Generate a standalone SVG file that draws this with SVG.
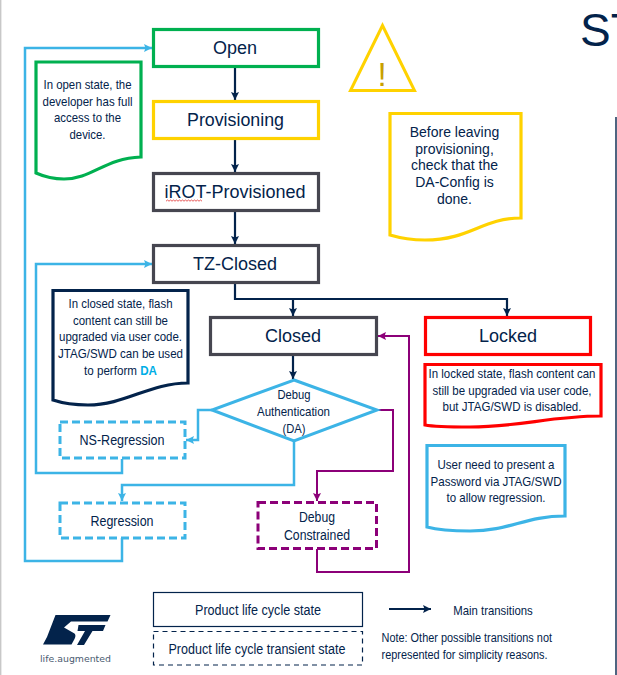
<svg xmlns="http://www.w3.org/2000/svg" width="617" height="675" viewBox="0 0 617 675">
<style>
text{font-family:"Liberation Sans",Arial,sans-serif;fill:#03234b;text-anchor:middle}
.st{fill:#fff;stroke-width:3.2}
.big{font-size:18px}
.sm{font-size:13px}
.c{fill:none;stroke-width:2.2}
.navy{stroke:#03234b}
.blue{stroke:#3cb4e6;stroke-width:2.5}
.pur{stroke:#8c0078;stroke-width:2}
.n{fill:#fff;stroke-width:3.2}
.d{fill:#fff;stroke-width:3;stroke-dasharray:8 4}
</style>
<defs>
<marker id="an" markerUnits="userSpaceOnUse" markerWidth="10" markerHeight="10" refX="8" refY="4" orient="auto"><path d="M0 0L8 4L0 8L1.5 4Z" fill="#03234b"/></marker>
<marker id="ab" markerUnits="userSpaceOnUse" markerWidth="10" markerHeight="10" refX="8" refY="4" orient="auto"><path d="M0 0L8 4L0 8L1.5 4Z" fill="#3cb4e6"/></marker>
<marker id="ap" markerUnits="userSpaceOnUse" markerWidth="10" markerHeight="10" refX="8" refY="4" orient="auto"><path d="M0 0L8 4L0 8L1.5 4Z" fill="#8c0078"/></marker>
</defs>
<rect width="617" height="675" fill="#fff"/>
<path d="M0.7 0V675" stroke="#c8c8c8" stroke-width="1.4"/>
<path d="M616 117V675" stroke="#03234b" stroke-width="1.4"/>
<text x="580" y="46" style="text-anchor:start;font-size:46px">ST</text>

<g id="connectors">
<path class="c navy" d="M235 66V100" marker-end="url(#an)"/>
<path class="c navy" d="M235 138V172" marker-end="url(#an)"/>
<path class="c navy" d="M235 210V244" marker-end="url(#an)"/>
<path class="c navy" d="M235 282V299H293V316" marker-end="url(#an)"/>
<path class="c navy" d="M293 299H507V316" marker-end="url(#an)"/>
<path class="c navy" d="M293 354V379" marker-end="url(#an)"/>
<path class="c blue" d="M122 538V561H25V48H152" marker-end="url(#ab)"/>
<path class="c blue" d="M122 459V473H36V264H152" marker-end="url(#ab)"/>
<path class="c blue" d="M212 410H198V440H186" marker-end="url(#ab)"/>
<path class="c blue" d="M294 441V485H122V501" marker-end="url(#ab)"/>
<path class="c pur" d="M376 410H393V471H317V501" marker-end="url(#ap)"/>
<path class="c pur" d="M317 549V572H409V336H378" marker-end="url(#ap)"/>
</g>

<g id="node-open"><rect class="st" x="153.5" y="29.5" width="165" height="37" stroke="#00b050"/><text class="big" x="235" y="54">Open</text></g>
<g id="node-provisioning"><rect class="st" x="153.5" y="101.5" width="165" height="37" stroke="#ffd200"/><text class="big" x="235.500" y="126" textLength="97" lengthAdjust="spacingAndGlyphs">Provisioning</text></g>
<g id="node-irot"><rect class="st" x="153.5" y="173.5" width="165" height="37" stroke="#464650"/><text class="big" x="235" y="198">iROT-Provisioned</text>
<path d="M166 201.2l1.5-1.2 1.500 1.200 1.500-1.200 1.500 1.200 1.500-1.200 1.500 1.200 1.500-1.200 1.500 1.200 1.500-1.200 1.500 1.200 1.500-1.200 1.500 1.200 1.500-1.200 1.500 1.200 1.500-1.200 1.500 1.200 1.500-1.200 1.500 1.200 1.500-1.200 1.500 1.200 1.500-1.200 1.500 1.200 1.500-1.200 1.500 1.200" fill="none" stroke="#e03030" stroke-width=".8"/></g>
<g id="node-tz-closed"><rect class="st" x="153.5" y="245.5" width="165" height="37" stroke="#464650"/><text class="big" x="235" y="270">TZ-Closed</text></g>
<g id="node-closed"><rect class="st" x="210.5" y="317.5" width="166" height="37" stroke="#464650"/><text class="big" x="293" y="342">Closed</text></g>
<g id="node-locked"><rect class="st" x="425.5" y="317.5" width="165" height="37" stroke="#ff0000"/><text class="big" x="508" y="342">Locked</text></g>

<g id="node-da"><path d="M294 380L377 410L294 441L212 410Z" fill="#fff" stroke="#3cb4e6" stroke-width="3"/>
<text class="sm" x="294" y="399" textLength="33" lengthAdjust="spacingAndGlyphs">Debug</text><text class="sm" x="293.500" y="416" textLength="73" lengthAdjust="spacingAndGlyphs">Authentication</text><text class="sm" x="294" y="433" textLength="23" lengthAdjust="spacingAndGlyphs">(DA)</text></g>

<g id="node-ns-regression"><rect class="d" x="60" y="422" width="125" height="36" stroke="#3cb4e6"/><text x="122" y="445" style="font-size:14px" textLength="85" lengthAdjust="spacingAndGlyphs">NS-Regression</text></g>
<g id="node-regression"><rect class="d" x="60" y="503" width="125" height="35" stroke="#3cb4e6"/><text x="122" y="526" style="font-size:14px" textLength="63" lengthAdjust="spacingAndGlyphs">Regression</text></g>
<g id="node-debug-constrained"><rect class="d" x="258" y="502.500" width="118.500" height="46" stroke="#8c0078"/><text x="317" y="522" style="font-size:14px" textLength="36" lengthAdjust="spacingAndGlyphs">Debug</text><text x="317" y="540" style="font-size:14px" textLength="66" lengthAdjust="spacingAndGlyphs">Constrained</text></g>

<g id="note-open"><path class="n" stroke="#00b050" d="M36 62H141V157C105 158 92 179 64 179C52 179 45 177 36 173Z"/>
<text class="sm" x="87.500" y="89" textLength="88" lengthAdjust="spacingAndGlyphs">In open state, the</text><text class="sm" x="87.500" y="106" textLength="90" lengthAdjust="spacingAndGlyphs">developer has full</text><text class="sm" x="87.500" y="122" textLength="67" lengthAdjust="spacingAndGlyphs">access to the</text><text class="sm" x="87.500" y="139" textLength="36" lengthAdjust="spacingAndGlyphs">device.</text></g>

<g id="warning"><path d="M382.500 25.500L414.500 90.500H350.500Z" fill="#fff" stroke="#ffd200" stroke-width="3"/><text x="382" y="86" style="font-size:33px;fill:#c8a000">!</text></g>

<g id="note-provisioning"><path class="n" stroke="#ffd200" d="M390 113.500H521V218C482 218 470 240 425 240C410 240 400 238 390 235Z"/>
<text x="454.500" y="137" style="font-size:14px">Before leaving</text><text x="454.500" y="154" style="font-size:14px">provisioning,</text><text x="454.500" y="170" style="font-size:14px">check that the</text><text x="454.500" y="187" style="font-size:14px">DA-Config is</text><text x="454.500" y="204" style="font-size:14px">done.</text></g>

<g id="note-closed"><path fill="#fff" stroke="#03234b" stroke-width="3.200" d="M53 290.500H188V383C150 383 125 405 88 405C72 405 62 403 53 400Z"/>
<text class="sm" x="120.500" y="308" textLength="104" lengthAdjust="spacingAndGlyphs">In closed state, flash</text><text class="sm" x="120.500" y="325" textLength="95" lengthAdjust="spacingAndGlyphs">content can still be</text><text class="sm" x="120.500" y="341" textLength="123" lengthAdjust="spacingAndGlyphs">upgraded via user code.</text><text class="sm" x="120.500" y="358" textLength="125" lengthAdjust="spacingAndGlyphs">JTAG/SWD can be used</text><text class="sm" x="120.500" y="375" textLength="73" lengthAdjust="spacingAndGlyphs">to perform <tspan font-weight="700" style="fill:#00aee6">DA</tspan></text></g>

<g id="note-locked"><path class="n" stroke="#ff0000" d="M425 364.500H601V416C550 416 520 427 470 427C450 427 435 427 425 425Z"/>
<text class="sm" x="512" y="378" textLength="167" lengthAdjust="spacingAndGlyphs">In locked state, flash content can</text><text class="sm" x="512" y="395" textLength="159" lengthAdjust="spacingAndGlyphs">still be upgraded via user code,</text><text class="sm" x="512" y="411" textLength="139" lengthAdjust="spacingAndGlyphs">but JTAG/SWD is disabled.</text></g>

<g id="note-password"><path class="n" stroke="#3cb4e6" d="M427 445.500H565V516C525 516 510 531 470 531C450 531 438 530 427 527Z"/>
<text class="sm" x="496" y="469" textLength="117" lengthAdjust="spacingAndGlyphs">User need to present a</text><text class="sm" x="496" y="486" textLength="131" lengthAdjust="spacingAndGlyphs">Password via JTAG/SWD</text><text class="sm" x="496" y="502" textLength="99" lengthAdjust="spacingAndGlyphs">to allow regression.</text></g>

<g id="legend">
<rect x="153.500" y="592.500" width="209" height="34" fill="#fff" stroke="#03234b" stroke-width="1.200"/>
<text x="258" y="615" style="font-size:14px" textLength="126" lengthAdjust="spacingAndGlyphs">Product life cycle state</text>
<rect x="153.500" y="631.500" width="209" height="33.500" fill="#fff" stroke="#03234b" stroke-width="1.200" stroke-dasharray="5 4"/>
<text x="257" y="654" style="font-size:14px" textLength="177" lengthAdjust="spacingAndGlyphs">Product life cycle transient state</text>
<path d="M389 609H431" stroke="#03234b" stroke-width="2" fill="none" marker-end="url(#an)"/>
<text x="493" y="615" style="font-size:13px" textLength="79.500" lengthAdjust="spacingAndGlyphs">Main transitions</text>
<text x="381.500" y="642" style="font-size:12.500px;text-anchor:start" textLength="170.500" lengthAdjust="spacingAndGlyphs">Note: Other possible transitions not</text>
<text x="381.500" y="659" style="font-size:12.500px;text-anchor:start" textLength="166" lengthAdjust="spacingAndGlyphs">represented for simplicity reasons.</text>
</g>

<g id="st-logo">
<path d="M55.500 615H110.500L107.500 621.500H71L64 627.500L74.500 633.500C76 635 75.500 637 74.500 639L71.500 644.500H43L47 637Z" fill="#03234b"/>
<path d="M78.500 625H105.500L103 631H92.500L84 645H77L85 631H77.500Z" fill="#03234b"/>
<text x="75.500" y="662" style="font-family:'DejaVu Sans',sans-serif;font-size:9.500px;fill:#4a5a70" textLength="71" lengthAdjust="spacingAndGlyphs">life.augmented</text>
</g>
</svg>
